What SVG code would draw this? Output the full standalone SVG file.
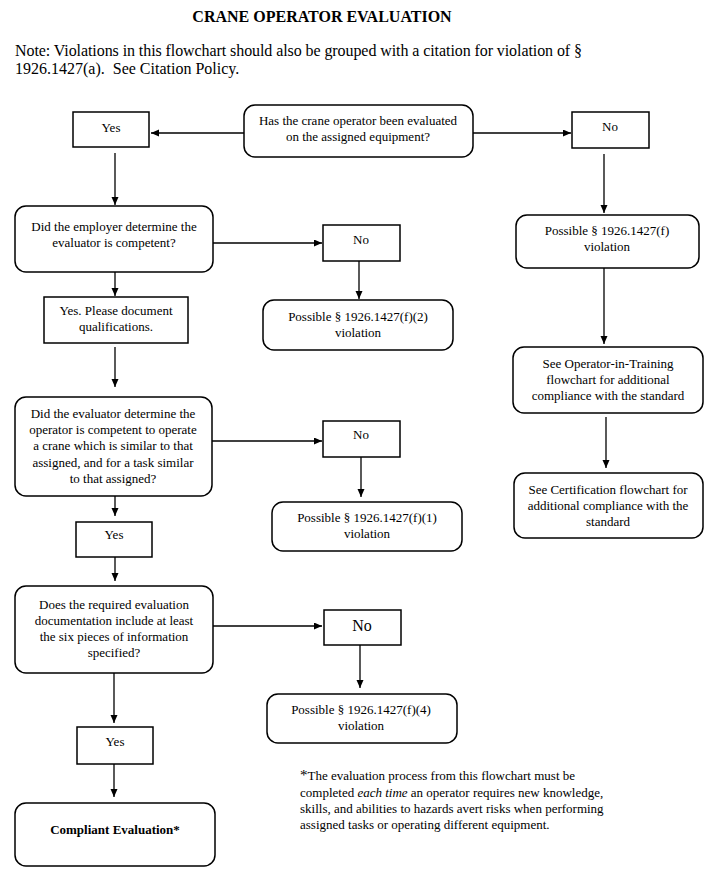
<svg xmlns="http://www.w3.org/2000/svg" width="708" height="869" viewBox="0 0 708 869">
<style>
text{font-family:"Liberation Serif","Times New Roman",serif;fill:#000;}
.t{font-size:13px;text-anchor:middle;}
.box{fill:#fff;stroke:#000;stroke-width:1.5;}
.con{stroke:#000;stroke-width:1.3;fill:none;marker-end:url(#ah);}
</style>
<defs>
<marker id="ah" markerUnits="userSpaceOnUse" markerWidth="9" markerHeight="8" refX="8" refY="3.5" orient="auto">
<path d="M0,0 L8,3.5 L0,7 z" fill="#000"/>
</marker>
</defs>
<rect width="708" height="869" fill="#fff"/>
<text x="322" y="22" font-size="16" font-weight="bold" text-anchor="middle">CRANE OPERATOR EVALUATION</text>
<text x="15" y="56" font-size="16" textLength="567" lengthAdjust="spacing">Note: Violations in this flowchart should also be grouped with a citation for violation of §</text>
<text x="15" y="74" font-size="16" xml:space="preserve">1926.1427(a).  See Citation Policy.</text>

<g id="connectors">
<line class="con" x1="244" y1="133" x2="151" y2="133"/>
<line class="con" x1="473" y1="133" x2="571" y2="133"/>
<line class="con" x1="115" y1="153" x2="115" y2="205"/>
<line class="con" x1="604" y1="154" x2="604" y2="213"/>
<line class="con" x1="213" y1="243" x2="322" y2="243"/>
<line class="con" x1="115" y1="272" x2="115" y2="296"/>
<line class="con" x1="359" y1="261" x2="359" y2="299"/>
<line class="con" x1="115" y1="347" x2="115" y2="387"/>
<line class="con" x1="212" y1="441" x2="322" y2="441"/>
<line class="con" x1="361" y1="457" x2="361" y2="497"/>
<line class="con" x1="115" y1="496" x2="115" y2="516"/>
<line class="con" x1="115" y1="557" x2="115" y2="581"/>
<line class="con" x1="213" y1="626" x2="322" y2="626"/>
<line class="con" x1="360" y1="645" x2="360" y2="688"/>
<line class="con" x1="114" y1="673" x2="114" y2="723"/>
<line class="con" x1="114" y1="764" x2="114" y2="797"/>
<line class="con" x1="604" y1="268" x2="604" y2="344"/>
<line class="con" x1="606" y1="417" x2="606" y2="468"/>
</g>

<g id="n-start">
<rect class="box" x="244" y="105" width="229" height="52" rx="11"/>
<text class="t" x="358" y="125">Has the crane operator been evaluated</text>
<text class="t" x="358" y="141">on the assigned equipment?</text>
</g>
<g id="n-yes1">
<rect class="box" x="73" y="112" width="76" height="35"/>
<text class="t" x="111" y="132">Yes</text>
</g>
<g id="n-no1">
<rect class="box" x="572" y="112" width="77" height="36"/>
<text class="t" x="610" y="131">No</text>
</g>
<g id="n-employer">
<rect class="box" x="15" y="206" width="198" height="66" rx="11"/>
<text class="t" x="114" y="231">Did the employer determine the</text>
<text class="t" x="114" y="247">evaluator is competent?</text>
</g>
<g id="n-no2">
<rect class="box" x="323" y="225" width="77" height="36"/>
<text class="t" x="361" y="244">No</text>
</g>
<g id="n-f2">
<rect class="box" x="263" y="300" width="190" height="50" rx="11"/>
<text class="t" x="358" y="321">Possible § 1926.1427(f)(2)</text>
<text class="t" x="358" y="337">violation</text>
</g>
<g id="n-yesdoc">
<rect class="box" x="44" y="297" width="144" height="46"/>
<text class="t" x="116" y="315">Yes. Please document</text>
<text class="t" x="116" y="331">qualifications.</text>
</g>
<g id="n-evaluator">
<rect class="box" x="15" y="397" width="197" height="99" rx="11"/>
<text class="t" x="113" y="418">Did the evaluator determine the</text>
<text class="t" x="113" y="434">operator is competent to operate</text>
<text class="t" x="113" y="450">a crane which is similar to that</text>
<text class="t" x="113" y="467">assigned, and for a task similar</text>
<text class="t" x="113" y="483">to that assigned?</text>
</g>
<g id="n-no3">
<rect class="box" x="323" y="421" width="77" height="36"/>
<text class="t" x="361" y="439">No</text>
</g>
<g id="n-f1">
<rect class="box" x="272" y="502" width="190" height="49" rx="11"/>
<text class="t" x="367" y="522">Possible § 1926.1427(f)(1)</text>
<text class="t" x="367" y="538">violation</text>
</g>
<g id="n-yes3">
<rect class="box" x="76" y="522" width="76" height="35"/>
<text class="t" x="114" y="539">Yes</text>
</g>
<g id="n-docs">
<rect class="box" x="15" y="586" width="198" height="87" rx="11"/>
<text class="t" x="114" y="609">Does the required evaluation</text>
<text class="t" x="114" y="625">documentation include at least</text>
<text class="t" x="114" y="641">the six pieces of information</text>
<text class="t" x="114" y="657">specified?</text>
</g>
<g id="n-no4">
<rect class="box" x="324" y="610" width="77" height="35"/>
<text x="362" y="631" font-size="16" text-anchor="middle">No</text>
</g>
<g id="n-f4">
<rect class="box" x="267" y="694" width="190" height="49" rx="11"/>
<text class="t" x="361" y="714">Possible § 1926.1427(f)(4)</text>
<text class="t" x="361" y="730">violation</text>
</g>
<g id="n-yes4">
<rect class="box" x="77" y="727" width="76" height="37"/>
<text class="t" x="115" y="746">Yes</text>
</g>
<g id="n-compliant">
<rect class="box" x="15" y="803" width="200" height="63" rx="11"/>
<text class="t" x="115" y="834" font-weight="bold">Compliant Evaluation*</text>
</g>
<g id="n-f">
<rect class="box" x="516" y="215" width="183" height="53" rx="11"/>
<text class="t" x="607" y="235">Possible § 1926.1427(f)</text>
<text class="t" x="607" y="251">violation</text>
</g>
<g id="n-oit">
<rect class="box" x="513" y="347" width="190" height="66" rx="11"/>
<text class="t" x="608" y="368">See Operator-in-Training</text>
<text class="t" x="608" y="384">flowchart for additional</text>
<text class="t" x="608" y="400">compliance with the standard</text>
</g>
<g id="n-cert">
<rect class="box" x="514" y="473" width="189" height="65" rx="11"/>
<text class="t" x="608" y="494">See Certification flowchart for</text>
<text class="t" x="608" y="510">additional compliance with the</text>
<text class="t" x="608" y="526">standard</text>
</g>

<g id="footnote" font-size="13">
<text x="300" y="780"><tspan font-size="15">*</tspan>The evaluation process from this flowchart must be</text>
<text x="300" y="797">completed <tspan font-style="italic">each time</tspan> an operator requires new knowledge,</text>
<text x="300" y="813">skills, and abilities to hazards avert risks when performing</text>
<text x="300" y="829">assigned tasks or operating different equipment.</text>
</g>
</svg>
